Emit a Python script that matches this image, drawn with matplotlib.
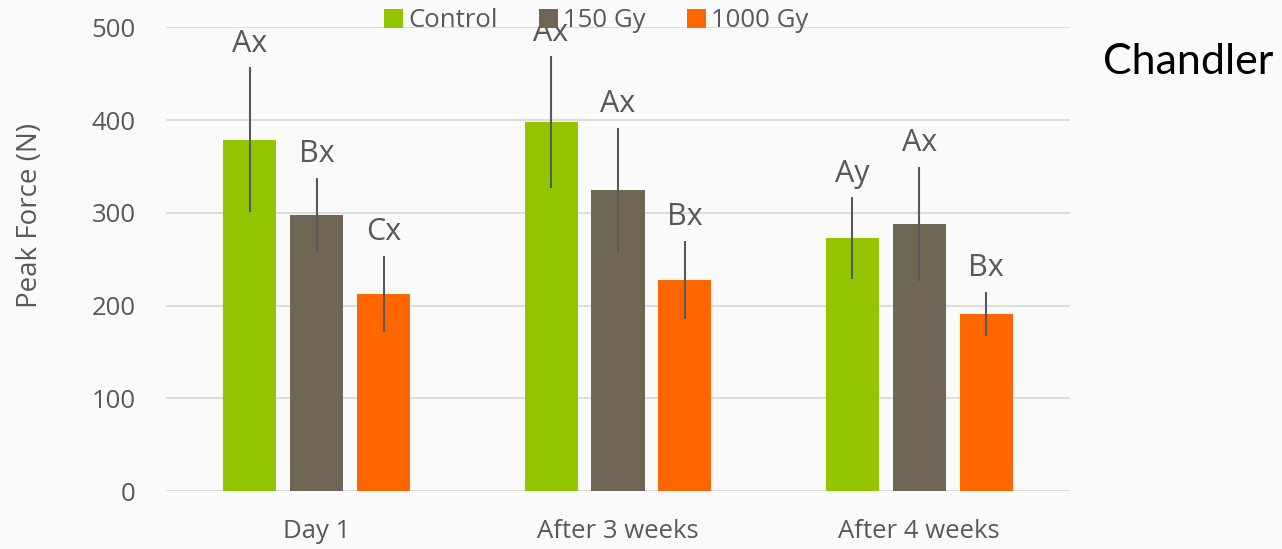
import numpy as np
import matplotlib.pyplot as plt

# peak force per treatment, mean and error
groups = ['Day 1', 'After 3 weeks', 'After 4 weeks']
series = ['Control', '150 Gy', '1000 Gy']
control = [379, 398, 273]
gy150 = [298, 325, 288]
gy1000 = [213, 228, 191]
control_err = [78, 71, 44]
gy150_err = [40, 67, 62]
gy1000_err = [41, 42, 24]
control_lbl = ['Ax', 'Ax', 'Ay']
gy150_lbl = ['Bx', 'Ax', 'Ax']
gy1000_lbl = ['Cx', 'Bx', 'Bx']

colors = ['#94c600', '#706656', '#ff6600']
txt = '#595959'

plt.rcParams['font.family'] = ['Open Sans', 'DejaVu Sans']

fig = plt.figure(figsize=(12.82, 5.49), dpi=100)
fig.patch.set_facecolor('#fafafa')
ax = fig.add_axes([0.1295, 0.1056, 0.7051, 0.8444])
ax.set_facecolor('#fafafa')

x = np.arange(len(groups))
w = 0.176
step = 0.222
data = [(control, control_err, control_lbl),
        (gy150, gy150_err, gy150_lbl),
        (gy1000, gy1000_err, gy1000_lbl)]
for i, (vals, errs, lbls) in enumerate(data):
    pos = x + (i - 1) * step
    ax.bar(pos, vals, w, color=colors[i], label=series[i], zorder=2)
    ax.errorbar(pos, vals, yerr=errs, fmt='none', ecolor=txt, elinewidth=1.5,
                capsize=0, zorder=3)
    for p, v, e, s in zip(pos, vals, errs, lbls):
        ax.annotate(s, (p, v + e), xytext=(0, 11), textcoords='offset points',
                    ha='center', va='baseline', fontsize=22, color=txt, zorder=4)

ax.set_xlim(-0.5, 2.5)
ax.set_ylim(0, 500)
ax.set_yticks(range(0, 501, 100))
ax.set_xticks(x)
ax.set_xticklabels(groups)
ax.yaxis.grid(True, color='#d9d9d9', linewidth=1.3, zorder=0)
ax.set_axisbelow(True)
for s in ax.spines.values():
    s.set_visible(False)
ax.tick_params(axis='both', length=0, labelsize=18.5, colors=txt)
ax.tick_params(axis='y', pad=22)
ax.tick_params(axis='x', pad=20)
ax.set_ylabel('Peak Force (N)', fontsize=20, color=txt, va='center')
ax.yaxis.set_label_coords(-0.151, 0.594)

fig.legend(loc='center', bbox_to_anchor=(0.465, 0.962), ncol=3, frameon=False,
           fontsize=18.5, handlelength=0.75, handleheight=0.75, handletextpad=0.2,
           columnspacing=1.6, labelcolor=txt)

fig.text(0.860, 0.887, 'Chandler', fontsize=31, color='black', va='center',
         family=['Lato', 'DejaVu Sans'])

fig.savefig('out.png', dpi=100, facecolor=fig.get_facecolor())
